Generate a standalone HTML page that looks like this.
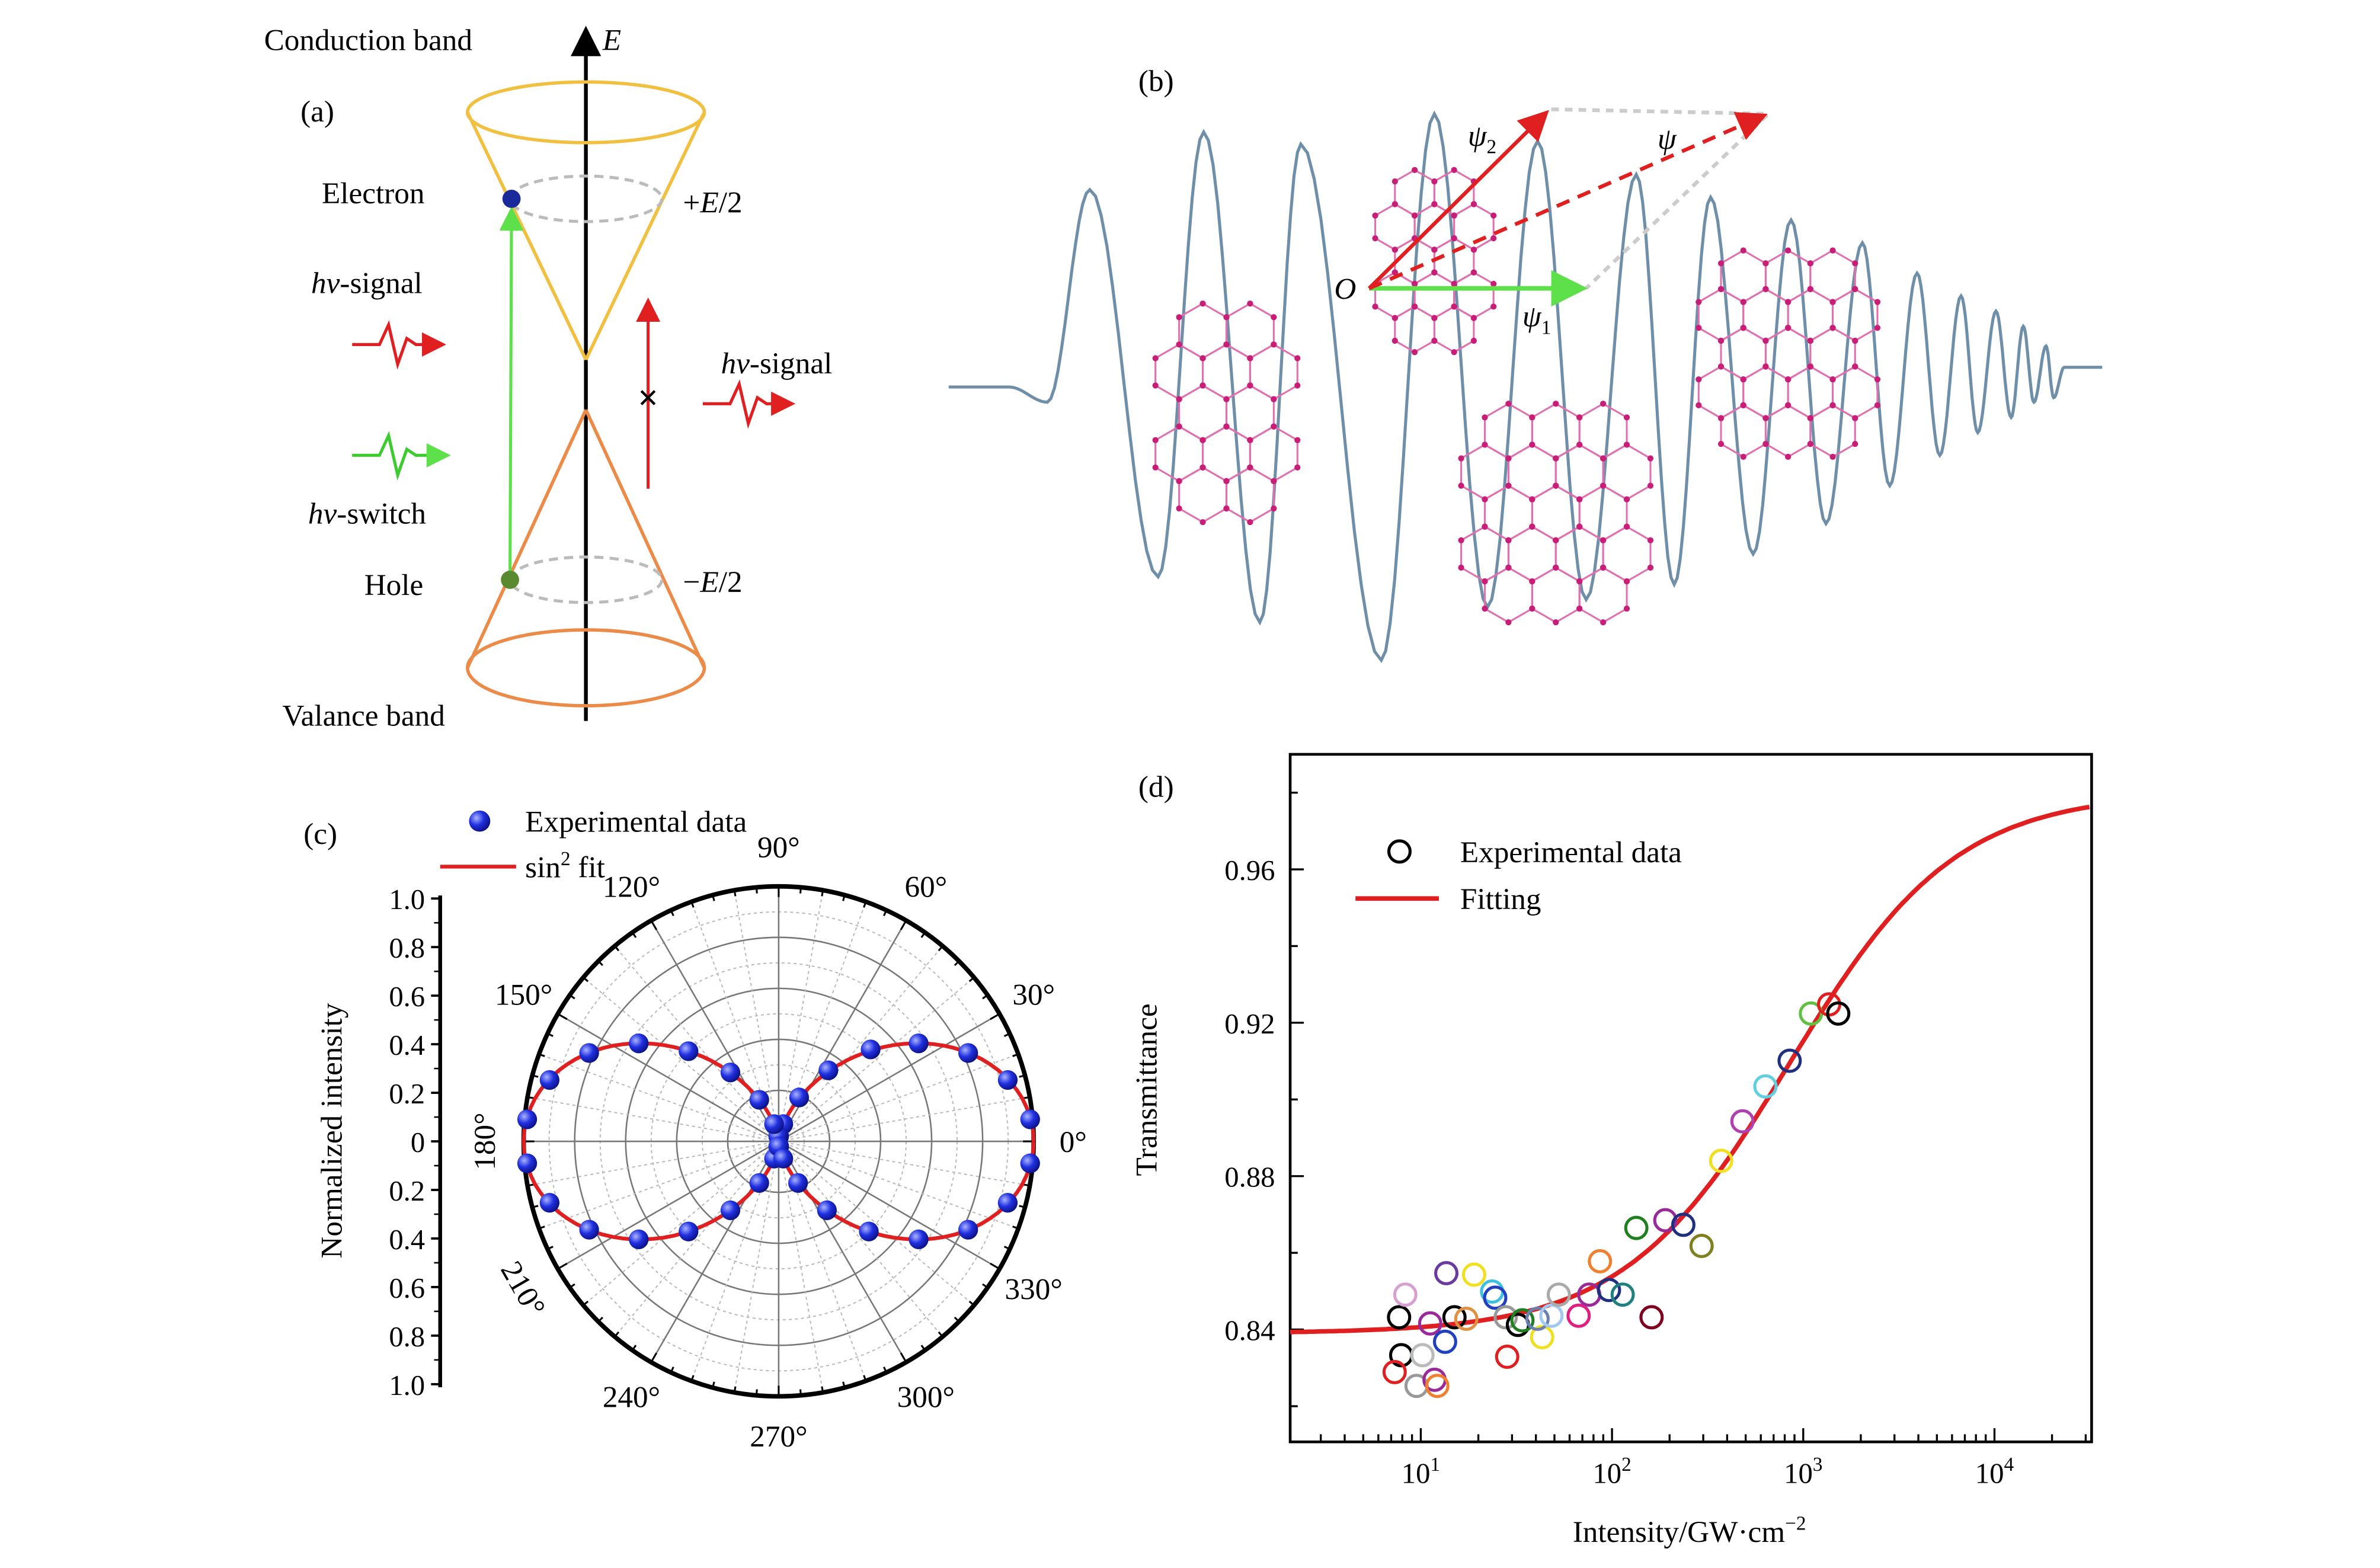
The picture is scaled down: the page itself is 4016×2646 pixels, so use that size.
<!DOCTYPE html>
<html><head><meta charset="utf-8">
<style>
html,body{margin:0;padding:0;background:#fff;}
svg{display:block;}
text{font-family:"Liberation Serif",serif;}
</style></head>
<body>
<svg id="fig" width="4016" height="2646" viewBox="0 0 1568 1033.1" xmlns="http://www.w3.org/2000/svg">
<defs>
<marker id="ab" markerWidth="8" markerHeight="8" refX="6" refY="4" orient="auto"><path d="M0,0 L8,4 L0,8 Z" fill="#000"/></marker>
<marker id="ar" markerWidth="8" markerHeight="8" refX="6" refY="4" orient="auto"><path d="M0,0 L8,4 L0,8 Z" fill="#e02020"/></marker>
<marker id="ag" markerWidth="8" markerHeight="8" refX="6" refY="4" orient="auto"><path d="M0,0 L8,4 L0,8 Z" fill="#5ee04a"/></marker>
<radialGradient id="bball" cx="0.35" cy="0.35" r="0.7"><stop offset="0" stop-color="#aab4ff"/><stop offset="0.5" stop-color="#2030e0"/><stop offset="1" stop-color="#0a1080"/></radialGradient>
</defs>

<!-- Panel (a) -->
<g>
<text x="174" y="33" font-size="20">Conduction band</text>
<line x1="386" y1="475" x2="386" y2="22" stroke="#000" stroke-width="2.5" marker-end="url(#ab)"/>
<text x="397" y="33" font-size="20" font-style="italic">E</text>
<text x="198" y="80" font-size="20">(a)</text>
<g fill="none" stroke="#f2c040" stroke-width="2.2">
<ellipse cx="386" cy="74" rx="78" ry="20"/>
<line x1="308" y1="74" x2="386" y2="237"/><line x1="464" y1="74" x2="386" y2="237"/>
</g>
<ellipse cx="386" cy="131" rx="50" ry="15" fill="none" stroke="#bbb" stroke-width="2" stroke-dasharray="6,4"/>
<g fill="none" stroke="#ec8a48" stroke-width="2.2">
<ellipse cx="386" cy="440" rx="78" ry="25"/>
<line x1="308" y1="440" x2="386" y2="270"/><line x1="464" y1="440" x2="386" y2="270"/>
</g>
<ellipse cx="386" cy="382" rx="50" ry="15" fill="none" stroke="#bbb" stroke-width="2" stroke-dasharray="6,4"/>
<line x1="336" y1="382" x2="337" y2="140" stroke="#5ee04a" stroke-width="2" marker-end="url(#ag)"/>
<circle cx="337" cy="131" r="6" fill="#1a2a9a"/>
<circle cx="336" cy="382" r="6" fill="#5a8a30"/>
<line x1="427" y1="322" x2="427" y2="200" stroke="#e02020" stroke-width="2" marker-end="url(#ar)"/>
<text x="427" y="270" font-size="24" text-anchor="middle" font-weight="bold">×</text>
<text x="212" y="134" font-size="20">Electron</text>
<text x="450" y="140" font-size="20">+<tspan font-style="italic">E</tspan>/2</text>
<text x="450" y="390" font-size="20">−<tspan font-style="italic">E</tspan>/2</text>
<text x="205" y="193" font-size="20"><tspan font-style="italic">hν</tspan>-signal</text>
<path d="M232,227 L250,227 L256,214 L262,240 L268,223 L274,227 L290,227" fill="none" stroke="#e02020" stroke-width="2" marker-end="url(#ar)"/>
<path d="M232,300 L250,300 L256,287 L262,313 L268,296 L274,300 L293,300" fill="none" stroke="#3ccc30" stroke-width="2" marker-end="url(#ag)"/>
<text x="203" y="345" font-size="20"><tspan font-style="italic">hν</tspan>-switch</text>
<text x="475" y="246" font-size="20"><tspan font-style="italic">hν</tspan>-signal</text>
<path d="M463,266 L481,266 L487,253 L493,279 L499,262 L505,266 L520,266" fill="none" stroke="#e02020" stroke-width="2" marker-end="url(#ar)"/>
<text x="240" y="392" font-size="20">Hole</text>
<text x="186" y="478" font-size="20">Valance band</text>
</g>

<!-- Panel (b) -->
<g id="pb">
<text x="750" y="60" font-size="20">(b)</text>
<path id="wave" fill="none" stroke="#6f8fa8" stroke-width="2"/>
<g id="hexes"></g>
<g>
<polyline points="1022,72 1165,75 1045,190" fill="none" stroke="#ccc" stroke-width="2.5" stroke-dasharray="5,4"/>
<line x1="902" y1="190" x2="1040" y2="190" stroke="#5ee04a" stroke-width="3" marker-end="url(#ag)"/>
<line x1="902" y1="190" x2="1017" y2="76" stroke="#e02020" stroke-width="2.5" marker-end="url(#ar)"/>
<line x1="902" y1="190" x2="1160" y2="77" stroke="#e02020" stroke-width="2.5" stroke-dasharray="9,6" marker-end="url(#ar)"/>
<text x="879" y="197" font-size="20" font-style="italic">O</text>
<text x="967" y="96" font-size="20" font-style="italic">ψ<tspan font-size="13" dy="5" font-style="normal">2</tspan></text>
<text x="1092" y="98" font-size="20" font-style="italic">ψ</text>
<text x="1003" y="215" font-size="20" font-style="italic">ψ<tspan font-size="13" dy="5" font-style="normal">1</tspan></text>
</g>
</g>

<!-- Panel (c) -->
<g id="pc">
<text x="200" y="556" font-size="20">(c)</text>
<circle cx="316" cy="541" r="7" fill="url(#bball)"/>
<text x="346" y="548" font-size="20">Experimental data</text>
<line x1="290" y1="571" x2="340" y2="571" stroke="#e02020" stroke-width="2.5"/>
<text x="346" y="578" font-size="20">sin<tspan font-size="13" dy="-8">2</tspan><tspan dy="8"> fit</tspan></text>
<text transform="translate(225,745) rotate(-90)" font-size="20" text-anchor="middle">Normalized intensity</text>
<g id="cgrid"></g>
<g id="caxis"></g>
<path id="cfit" fill="none" stroke="#e02020" stroke-width="2.5"/>
<g id="cpts"></g>
</g>

<!-- Panel (d) -->
<g id="pd">
<text x="750" y="525" font-size="20">(d)</text>
<rect x="850" y="497" width="528" height="453" fill="none" stroke="#000" stroke-width="1.8"/>
<g id="dticks"></g>
<path id="dfit" fill="none" stroke="#e02020" stroke-width="3"/>
<g id="dpts"></g>
<circle cx="922" cy="561" r="7" fill="none" stroke="#000" stroke-width="2"/>
<text x="962" y="568" font-size="20">Experimental data</text>
<line x1="893" y1="592" x2="948" y2="592" stroke="#e02020" stroke-width="3"/>
<text x="962" y="599" font-size="20">Fitting</text>
<text transform="translate(762,718) rotate(-90)" font-size="20" text-anchor="middle">Transmittance</text>
<text x="1113" y="1016" font-size="20" text-anchor="middle">Intensity/GW·cm<tspan font-size="13" dy="-8">−2</tspan></text>
</g>
</svg>
<script>
const NS="http://www.w3.org/2000/svg";
// ---- panel (c) data ----
const polarAngles=[5,15,25,35,45,55,65,75,85,95,105,115,125,135,145,155,165,175,185,195,205,215,225,235,245,255,265,275,285,295,305,315,325,335,345,355];
const polarValues=[0.99,0.93,0.82,0.67,0.51,0.34,0.19,0.07,0.02,0.02,0.07,0.18,0.33,0.50,0.67,0.82,0.93,0.99,0.99,0.93,0.82,0.67,0.50,0.33,0.18,0.07,0.02,0.02,0.07,0.18,0.33,0.50,0.67,0.82,0.93,0.99];
const radialTicks=["1.0","0.8","0.6","0.4","0.2","0","0.2","0.4","0.6","0.8","1.0"];
const angleLabels=[0,30,60,90,120,150,180,210,240,270,300,330];
// ---- panel (d) data ----
const intensity=[7.7,8.3,7.9,7.3,9.5,10.2,11.8,12.2,11.2,13.6,13.4,15.0,17.3,19.0,23.6,24.5,27.8,28.3,32.2,34.0,43.1,40.8,48.2,52.7,66.9,76.0,86.5,96.4,113.7,134,161,190,236,294,372,481,634,849,1097,1366,1524];
const transmittance=[0.8432,0.8491,0.8333,0.8289,0.8253,0.8333,0.8269,0.8253,0.8416,0.8547,0.8368,0.8432,0.8428,0.8543,0.8499,0.8483,0.8432,0.8329,0.8412,0.8424,0.8380,0.8428,0.8436,0.8491,0.8436,0.8491,0.8578,0.8503,0.8491,0.8665,0.8432,0.8685,0.8673,0.8618,0.8840,0.8943,0.9034,0.9101,0.9224,0.9248,0.9224];
const yTicks=[0.84,0.88,0.92,0.96];
const xTickExps=[1,2,3,4];
const fitT0=0.839, fitTmax=0.980, fitIs=850;
const ptColors=["#000","#d8a0d0","#000","#e02020","#999","#bbb","#9a2a9a","#f08030","#9a2a9a","#6a3aa0","#2040c0","#000","#e09040","#f0e020","#40c0e0","#2040c0","#999","#e02020","#000","#208020","#f0e020","#6a80b0","#a0c8f0","#aaa","#e02080","#9a2a9a","#f08030","#203080","#208080","#208020","#800020","#9a2a9a","#203080","#808020","#f0e020","#b040b0","#60d0e0","#203080","#60c040","#e02020","#000"];

function el(tag,attrs,parent){const e=document.createElementNS(NS,tag);for(const k in attrs)e.setAttribute(k,attrs[k]);parent.appendChild(e);return e;}

// ---- wave (illustration) ----
(function(){
 const px=[718,763,793,830,857,910,945,980,1013,1045,1078,1103,1127,1155,1180,1203,1227,1245,1263,1278,1292,1303,1315,1325,1333,1340,1348];
 const py=[125,380,87,410,95,435,75,400,93,395,115,385,130,365,145,345,160,320,180,300,195,285,205,275,215,265,228];
 let d="M625,255 L665,255";
 const seg=(x0,y0,x1,y1)=>{for(let i=1;i<=12;i++){const t=i/12;const s=(1-Math.cos(Math.PI*t))/2;d+=` L${(x0+(x1-x0)*t).toFixed(1)},${(y0+(y1-y0)*s).toFixed(1)}`;}};
 seg(665,255,690,265);seg(690,265,px[0],py[0]);
 for(let i=0;i<px.length-1;i++)seg(px[i],py[i],px[i+1],py[i+1]);
 seg(1348,228,1353,262);seg(1353,262,1360,242);d+=" L1385,242";
 document.getElementById('wave').setAttribute('d',d);
 const g=document.getElementById('hexes');
 function lattice(cx,cy,rows,s){
  const w=s*Math.sqrt(3);
  rows.forEach((n,ri)=>{const y=cy+(ri-(rows.length-1)/2)*1.5*s;
   for(let j=0;j<n;j++){const x=cx+(j-(n-1)/2)*w;let pts=[];
    for(let k=0;k<6;k++){const a=Math.PI/3*k+Math.PI/6;pts.push([x+s*Math.cos(a),y+s*Math.sin(a)]);}
    el('polygon',{points:pts.map(p=>p.join(',')).join(' '),fill:'none',stroke:'#e070b0','stroke-width':1.2},g);
    pts.forEach(p=>el('circle',{cx:p[0],cy:p[1],r:2,fill:'#c81e78'},g));}});
 }
 lattice(808,272,[2,3,2,3,2],18);
 lattice(945,172,[2,3,2,3,2],15);
 lattice(1025,338,[3,4,3,4,3],18);
 lattice(1178,233,[3,4,3,4,3],17);
})();

// ---- panel (c) ----
(function(){
 const cx=513,cy=752,R=168;
 const g=document.getElementById('cgrid');
 for(let i=1;i<=10;i++){el('circle',{cx,cy,r:R*i/10,fill:'none',stroke:i%2?'#bbb':'#777','stroke-width':i%2?0.8:1,'stroke-dasharray':i%2?'2,2':'none'},g);}
 for(let a=0;a<360;a+=10){const r=a*Math.PI/180;el('line',{x1:cx,y1:cy,x2:cx+R*Math.cos(r),y2:cy-R*Math.sin(r),stroke:a%30?'#bbb':'#777','stroke-width':a%30?0.8:1,'stroke-dasharray':a%30?'2,2':'none'},g);}
 el('circle',{cx,cy,r:R,fill:'none',stroke:'#000','stroke-width':3},g);
 for(let a=0;a<360;a+=5){const r=a*Math.PI/180;const l=a%30?4:7;el('line',{x1:cx+R*Math.cos(r),y1:cy-R*Math.sin(r),x2:cx+(R-l)*Math.cos(r),y2:cy-(R-l)*Math.sin(r),stroke:'#000','stroke-width':1.2},g);}
 angleLabels.forEach(a=>{const r=a*Math.PI/180;const t=el('text',{x:cx+(R+26)*Math.cos(r),y:cy-(R+26)*Math.sin(r)+7,'font-size':20,'text-anchor':'middle'},g);
  if(a==180||a==210){t.setAttribute('transform',`rotate(${a==180?-90:60} ${cx+(R+26)*Math.cos(r)} ${cy-(R+26)*Math.sin(r)})`);}
  
  
  t.textContent=a+'°';});
 const ax=document.getElementById('caxis');
 el('line',{x1:290,y1:590,x2:290,y2:914,stroke:'#000','stroke-width':2.5},ax);
 radialTicks.forEach((lab,i)=>{const y=592+i*32;el('line',{x1:290,y1:y,x2:284,y2:y,stroke:'#000','stroke-width':1.5},ax);
  if(i<10)el('line',{x1:290,y1:y+16,x2:286,y2:y+16,stroke:'#000','stroke-width':1},ax);
  const t=el('text',{x:280,y:y+7,'font-size':19,'text-anchor':'end'},ax);
  
  
  t.textContent=lab;});
 let d="";for(let a=0;a<=360;a+=2){const r=a*Math.PI/180;const v=Math.cos(r)**2*R;d+=(a?'L':'M')+(cx+v*Math.cos(r)).toFixed(1)+','+(cy-v*Math.sin(r)).toFixed(1);}
 document.getElementById('cfit').setAttribute('d',d);
 const pg=document.getElementById('cpts');
 polarAngles.forEach((a,i)=>{const r=a*Math.PI/180,v=polarValues[i]*R;
  const c=el('circle',{cx:cx+v*Math.cos(r),cy:cy-v*Math.sin(r),r:6.5,fill:'url(#bball)'},pg);
  
  });
})();

// ---- panel (d) ----
(function(){
 const X0=850,X1=1378,Y0=950,Y1=497;
 const lmin=0.317,lmax=4.508,tmin=0.8107,tmax=0.990;
 const xs=I=>X0+(Math.log10(I)-lmin)/(lmax-lmin)*(X1-X0);
 const ys=T=>Y0-(T-tmin)/(tmax-tmin)*(Y0-Y1);
 const g=document.getElementById('dticks');
 for(let e=0;e<=4;e++)for(let m=1;m<10;m++){const I=m*Math.pow(10,e);const x=xs(I);if(x<X0||x>X1)continue;
  el('line',{x1:x,y1:Y0,x2:x,y2:Y0-(m==1?9:5),stroke:'#000','stroke-width':1.3},g);}
 xTickExps.forEach(e=>{const t=el('text',{x:xs(Math.pow(10,e)),y:977,'font-size':19,'text-anchor':'middle'},g);
  
  
  t.innerHTML='10<tspan font-size="13" dy="-8">'+e+'</tspan>';});
 for(let k=41;k<=49;k++){const T=k/50;const y=ys(T);el('line',{x1:X0,y1:y,x2:X0+(k%2==0?9:5),y2:y,stroke:'#000','stroke-width':1.3},g);}
 yTicks.forEach(T=>{const t=el('text',{x:840,y:ys(T)+7,'font-size':19,'text-anchor':'end'},g);
  
  
  t.textContent=T.toFixed(2);});
 let d="";for(let l=lmin;l<=lmax+1e-9;l+=0.02){const I=Math.pow(10,l);const T=fitTmax-(fitTmax-fitT0)/(1+I/fitIs);d+=(d?'L':'M')+xs(I).toFixed(1)+','+ys(T).toFixed(1);}
 document.getElementById('dfit').setAttribute('d',d);
 const pg=document.getElementById('dpts');
 intensity.forEach((I,i)=>{const c=el('circle',{cx:xs(I),cy:ys(transmittance[i]),r:7,fill:'none',stroke:ptColors[i%ptColors.length],'stroke-width':2},pg);
  
  });
})();
</script>
</body></html>
